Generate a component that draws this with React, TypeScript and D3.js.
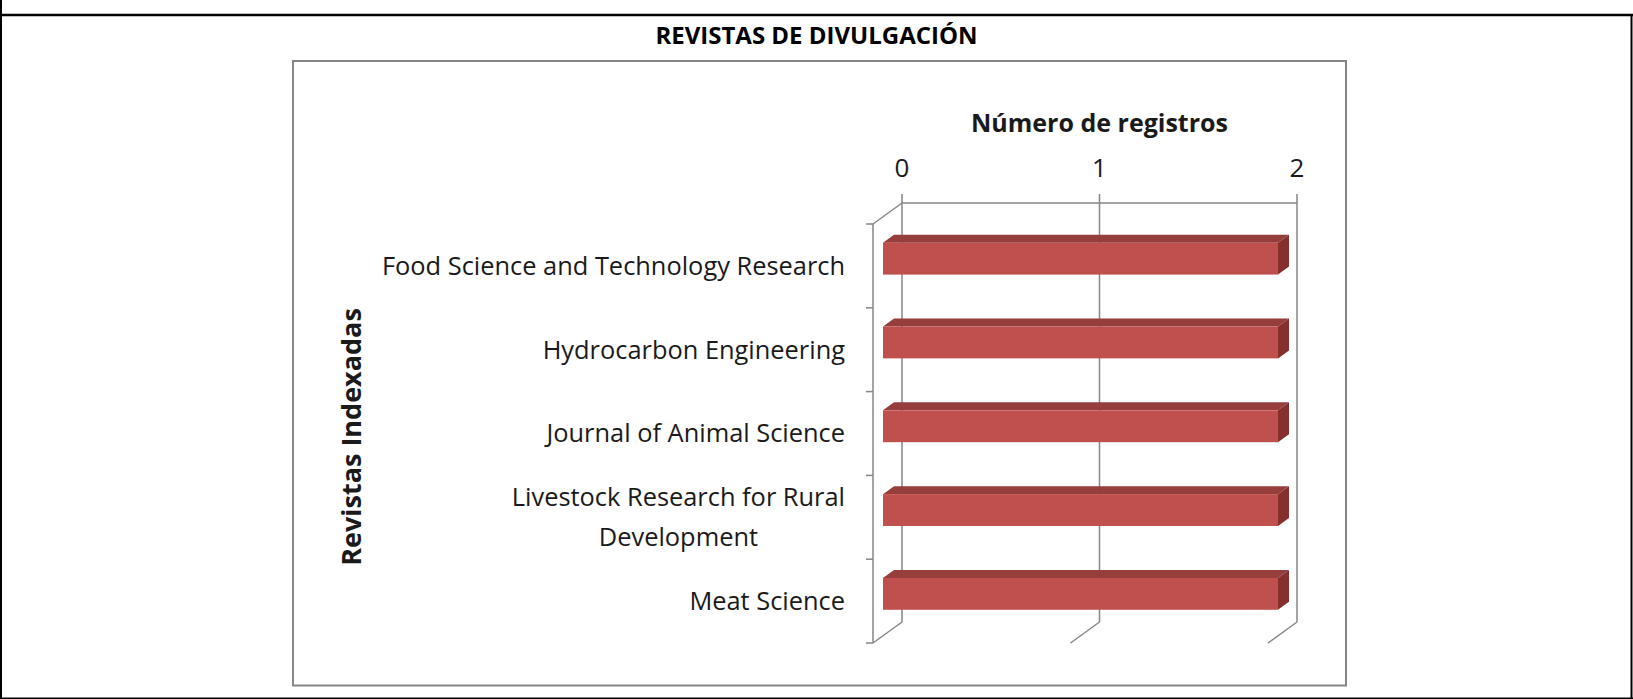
import React, { useRef, useEffect } from "react";
import * as d3 from "d3";

// categories (top to bottom) and their values
const categories = [
  "Food Science and Technology Research",
  "Hydrocarbon Engineering",
  "Journal of Animal Science",
  "Livestock Research for Rural Development",
  "Meat Science",
];
const labelLines = [
  ["Food Science and Technology Research"],
  ["Hydrocarbon Engineering"],
  ["Journal of Animal Science"],
  ["Livestock Research for Rural", "Development"],
  ["Meat Science"],
];
const values = [2, 2, 2, 2, 2];
const xTicks = [0, 1, 2];

const title = "REVISTAS DE DIVULGACIÓN";
const xTitle = "Número de registros";
const yTitle = "Revistas Indexadas";

const W = 1633;
const H = 699;
const FONT = "'Open Sans', 'Noto Sans', sans-serif";

const App = () => {
  const svgRef = useRef(null);

  useEffect(() => {
    const svg = d3.select(svgRef.current);
    svg.selectAll("*").remove();

    // back wall of the 3d plot
    const plot = { left: 902, right: 1297, top: 203, bottom: 622 };
    const depth = { dx: -29, dy: 21 }; // back -> front
    const barFront = 0.655;
    const barBack = 0.276;
    const grid = "#868686";

    const x = d3.scaleLinear().domain([0, 2]).range([plot.left, plot.right]);
    const y = d3
      .scaleBand()
      .domain(categories)
      .range([plot.top, plot.bottom]);

    // page borders
    const border = svg.append("g").attr("stroke", "#000").attr("fill", "none");
    border.append("line").attr("x1", 0).attr("x2", W).attr("y1", 15).attr("y2", 15).attr("stroke-width", 2.5);
    border.append("line").attr("x1", 1).attr("x2", 1).attr("y1", 0).attr("y2", H).attr("stroke-width", 2);
    border.append("line").attr("x1", W - 1.5).attr("x2", W - 1.5).attr("y1", 15).attr("y2", H).attr("stroke-width", 2);
    border.append("line").attr("x1", 0).attr("x2", W).attr("y1", H - 0.5).attr("y2", H - 0.5).attr("stroke-width", 2);

    svg
      .append("text")
      .attr("x", W / 2)
      .attr("y", 44)
      .attr("text-anchor", "middle")
      .attr("font-family", FONT)
      .attr("font-weight", "bold")
      .attr("font-size", 24)
      .text(title);

    // chart area box
    svg
      .append("rect")
      .attr("x", 293)
      .attr("y", 61)
      .attr("width", 1346 - 293)
      .attr("height", 685.5 - 61)
      .attr("fill", "#fff")
      .attr("stroke", grid)
      .attr("stroke-width", 2);

    const g = svg.append("g").attr("stroke", grid).attr("stroke-width", 1.5).attr("fill", "none");

    // back wall gridlines + top ticks
    xTicks.forEach((t) => {
      g.append("line").attr("x1", x(t)).attr("x2", x(t)).attr("y1", plot.top - 9).attr("y2", plot.bottom);
      // floor diagonals
      g.append("line")
        .attr("x1", x(t))
        .attr("y1", plot.bottom)
        .attr("x2", x(t) + depth.dx)
        .attr("y2", plot.bottom + depth.dy);
    });
    g.append("line").attr("x1", plot.left).attr("x2", plot.right).attr("y1", plot.top).attr("y2", plot.top);

    // left wall
    g.append("line")
      .attr("x1", plot.left)
      .attr("y1", plot.top)
      .attr("x2", plot.left + depth.dx)
      .attr("y2", plot.top + depth.dy);
    g.append("line")
      .attr("x1", plot.left + depth.dx)
      .attr("x2", plot.left + depth.dx)
      .attr("y1", plot.top + depth.dy)
      .attr("y2", plot.bottom + depth.dy);
    const step = y.step();
    d3.range(categories.length + 1).forEach((i) => {
      const yy = plot.top + depth.dy + i * step;
      g.append("line")
        .attr("x1", plot.left + depth.dx - 7)
        .attr("x2", plot.left + depth.dx)
        .attr("y1", yy)
        .attr("y2", yy);
    });

    // x tick labels
    svg
      .append("g")
      .selectAll("text")
      .data(xTicks)
      .join("text")
      .attr("x", (d) => x(d))
      .attr("y", 177)
      .attr("text-anchor", "middle")
      .attr("font-family", FONT)
      .attr("font-size", 26)
      .attr("fill", "#1a1a1a")
      .text((d) => d);

    // bars
    const bh = step * 0.38;
    const fx = depth.dx * barFront;
    const fy = depth.dy * barFront;
    const bx = depth.dx * barBack;
    const by = depth.dy * barBack;
    const bars = svg.append("g");
    categories.forEach((c, i) => {
      const cy = (y(c) as number) + step / 2;
      const x0 = x(0);
      const x1 = x(values[i]);
      const top = cy - bh / 2;
      const bot = cy + bh / 2;
      // top face
      bars
        .append("polygon")
        .attr(
          "points",
          [
            [x0 + fx, top + fy],
            [x1 + fx, top + fy],
            [x1 + bx, top + by],
            [x0 + bx, top + by],
          ].join(" ")
        )
        .attr("fill", "#953e3c");
      // right face
      bars
        .append("polygon")
        .attr(
          "points",
          [
            [x1 + fx, top + fy],
            [x1 + bx, top + by],
            [x1 + bx, bot + by],
            [x1 + fx, bot + fy],
          ].join(" ")
        )
        .attr("fill", "#86302e");
      // front face
      bars
        .append("rect")
        .attr("x", x0 + fx)
        .attr("y", top + fy)
        .attr("width", x1 - x0)
        .attr("height", bh)
        .attr("fill", "#c0504d");
    });

    // category labels
    const labelRight = 845;
    const lineH = 40;
    const labels = svg.append("g").attr("font-family", FONT).attr("font-size", 25.4).attr("fill", "#1a1a1a");
    categories.forEach((c, i) => {
      const cy = (y(c) as number) + step / 2 + depth.dy;
      const lines = labelLines[i];
      const t = labels.append("text").attr("text-anchor", "middle");
      lines.forEach((l, k) => {
        t.append("tspan")
          .attr("y", cy + (k - (lines.length - 1) / 2) * lineH)
          .attr("dy", "0.35em")
          .text(l);
      });
      const widths = t.selectAll("tspan").nodes().map((n: any) => n.getComputedTextLength());
      const maxW = d3.max(widths) as number;
      t.selectAll("tspan").attr("x", labelRight - maxW / 2);
    });

    // axis titles
    svg
      .append("text")
      .attr("x", x(1))
      .attr("y", 132)
      .attr("text-anchor", "middle")
      .attr("font-family", FONT)
      .attr("font-weight", "bold")
      .attr("font-size", 25)
      .attr("fill", "#1a1a1a")
      .text(xTitle);

    svg
      .append("text")
      .attr("transform", `translate(361, 437) rotate(-90)`)
      .attr("text-anchor", "middle")
      .attr("font-family", FONT)
      .attr("font-weight", "bold")
      .attr("font-size", 27)
      .attr("fill", "#1a1a1a")
      .text(yTitle);
  }, []);

  return (
    <svg
      ref={svgRef}
      width={W}
      height={H}
      style={{ position: "absolute", left: 0, top: 0, background: "#fff" }}
    ></svg>
  );
};

export default App;
